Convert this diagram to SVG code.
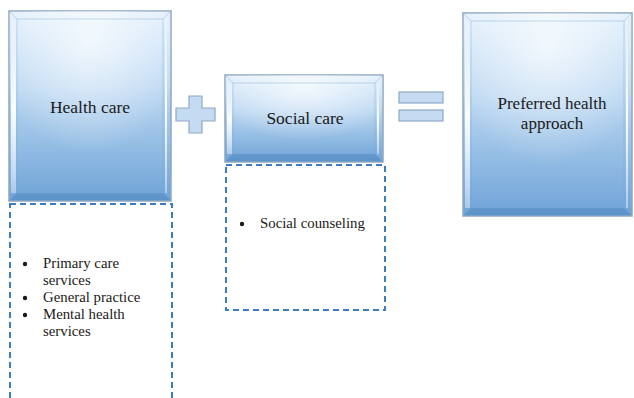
<svg xmlns="http://www.w3.org/2000/svg" width="634" height="398" viewBox="0 0 634 398">
<defs>
<linearGradient id="g" x1="0" y1="0" x2="0" y2="1">
<stop offset="0" stop-color="#e2f0fc"/>
<stop offset="0.4" stop-color="#bcd8f2"/>
<stop offset="1" stop-color="#6ea3d7"/>
</linearGradient>
<radialGradient id="glow" cx="0.5" cy="0.15" r="0.6">
<stop offset="0" stop-color="#ffffff" stop-opacity="0.7"/>
<stop offset="1" stop-color="#ffffff" stop-opacity="0"/>
</radialGradient>
<linearGradient id="hl" x1="0" y1="0" x2="0" y2="1">
<stop offset="0" stop-color="#ffffff" stop-opacity="0.2"/>
<stop offset="0.5" stop-color="#ffffff" stop-opacity="0.95"/>
<stop offset="1" stop-color="#ffffff" stop-opacity="0.4"/>
</linearGradient>
<style>
.box{fill:url(#g);stroke:#8fa6bf;stroke-width:1.5}
.glow{fill:url(#glow)}
.bev{fill:none;stroke:#7aa5d2;stroke-width:0.8;opacity:0.5}
.bot{fill:#4f86bf;opacity:0.55}
.hl{fill:url(#hl)}
.dash{fill:none;stroke:#3b7cc2;stroke-width:2;stroke-dasharray:6 4}
.sym{fill:#c4dbf1;stroke:#8ea9c6;stroke-width:1.2}
.title{font-size:17.5px;text-anchor:middle}
.title2{font-size:17px;text-anchor:middle}
.li{font-size:14.8px}
</style>
</defs>
<g id="health-care">
<rect class="box" x="9" y="11" width="162" height="190"/>
<rect class="glow" x="9" y="11" width="162" height="190"/>
<path class="bot" d="M9.75 200.25 L17 193 H163 L170.25 200.25 Z"/>
<path class="bev" d="M9 11 L17 19 M171 11 L163 19 M17 19 H163 V193 H17 Z"/>
<rect class="hl" x="11" y="19" width="5" height="174"/>
<rect class="hl" x="165" y="19" width="2" height="174"/>
<text class="title" x="90" y="113" font-family="'Liberation Serif', 'Times New Roman', serif" fill="#1a1a1a">Health care</text>
</g>
<g id="health-care-list" font-family="'Liberation Serif', 'Times New Roman', serif" fill="#1a1a1a">
<rect class="dash" x="10" y="204" width="162" height="200"/>
<circle cx="25" cy="264" r="2.2"/>
<circle cx="25" cy="298" r="2.2"/>
<circle cx="25" cy="315" r="2.2"/>
<text class="li" x="43" y="268">Primary care</text>
<text class="li" x="43" y="285">services</text>
<text class="li" x="43" y="302">General practice</text>
<text class="li" x="43" y="319">Mental health</text>
<text class="li" x="43" y="336">services</text>
</g>
<g id="plus">
<path class="sym" d="M189 96 H202 V108 H215 V121 H202 V133 H189 V121 H176 V108 H189 Z"/>
</g>
<g id="social-care">
<rect class="box" x="225" y="75" width="158" height="87"/>
<rect class="glow" x="225" y="75" width="158" height="87"/>
<path class="bot" d="M225.75 161.25 L233 154 H375 L382.25 161.25 Z"/>
<path class="bev" d="M225 75 L233 83 M383 75 L375 83 M233 83 H375 V154 H233 Z"/>
<rect class="hl" x="227" y="83" width="5" height="71"/>
<rect class="hl" x="377" y="83" width="2" height="71"/>
<text class="title" x="305" y="124" font-family="'Liberation Serif', 'Times New Roman', serif" fill="#1a1a1a">Social care</text>
</g>
<g id="social-care-list" font-family="'Liberation Serif', 'Times New Roman', serif" fill="#1a1a1a">
<rect class="dash" x="226" y="165" width="159" height="145"/>
<circle cx="242" cy="224" r="2.2"/>
<text class="li" x="260" y="228">Social counseling</text>
</g>
<g id="equals">
<rect class="sym" x="399" y="92" width="44" height="11"/>
<rect class="sym" x="399" y="110" width="44" height="11"/>
</g>
<g id="preferred">
<rect class="box" x="463" y="13" width="169" height="203"/>
<rect class="glow" x="463" y="13" width="169" height="203"/>
<path class="bot" d="M463.75 215.25 L471 208 H624 L631.25 215.25 Z"/>
<path class="bev" d="M463 13 L471 21 M632 13 L624 21 M471 21 H624 V208 H471 Z"/>
<rect class="hl" x="465" y="21" width="5" height="187"/>
<rect class="hl" x="626" y="21" width="2" height="187"/>
<text class="title2" x="552" y="109" font-family="'Liberation Serif', 'Times New Roman', serif" fill="#1a1a1a">Preferred health</text>
<text class="title2" x="552" y="129" font-family="'Liberation Serif', 'Times New Roman', serif" fill="#1a1a1a">approach</text>
</g>
<g id="connectors"/>
</svg>
